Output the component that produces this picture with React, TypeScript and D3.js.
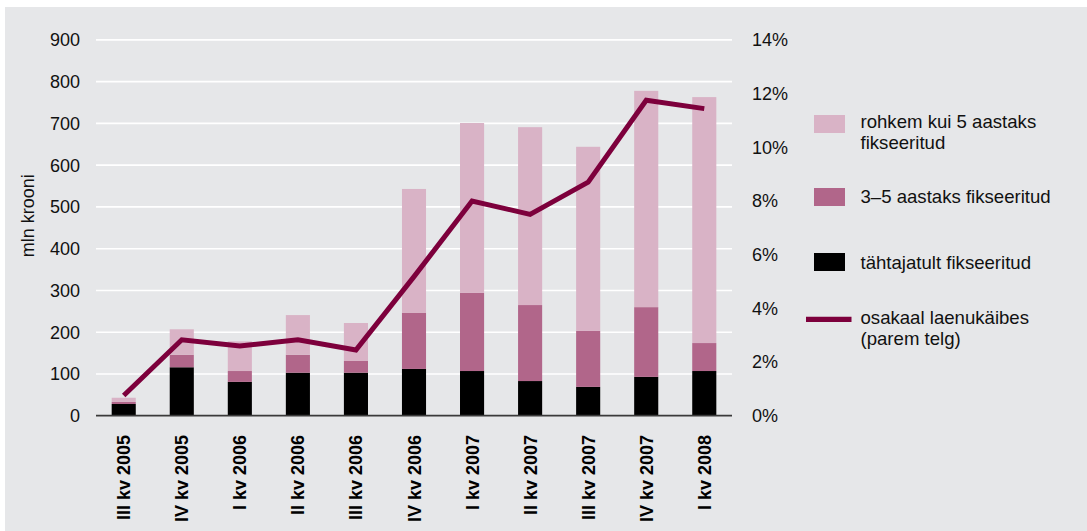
import React from "react";
import * as d3 from "d3";

const categories = [
  "III kv 2005", "IV kv 2005", "I kv 2006", "II kv 2006", "III kv 2006",
  "IV kv 2006", "I kv 2007", "II kv 2007", "III kv 2007", "IV kv 2007", "I kv 2008",
];
const fixedTerm = [28, 116, 81, 103, 103, 112, 107, 83, 69, 93, 107];
const fixed3to5 = [5, 30, 26, 43, 28, 134, 187, 182, 134, 167, 67];
const fixedOver5 = [10, 61, 71, 95, 91, 297, 407, 426, 441, 518, 589];
const shareOfTurnover = [0.75, 2.83, 2.6, 2.83, 2.45, 5.18, 8.0, 7.5, 8.7, 11.75, 11.44];
const leftTicks = [0, 100, 200, 300, 400, 500, 600, 700, 800, 900];
const rightTicks = [0, 2, 4, 6, 8, 10, 12, 14];

const seriesKeys = ["fixedTerm", "fixed3to5", "fixedOver5"];
const seriesColors: Record<string, string> = {
  fixedTerm: "#000000",
  fixed3to5: "#b1668a",
  fixedOver5: "#d9b3c6",
};
const lineColor = "#7d003c";

export default function App() {
  const W = 1087, H = 531;
  const x0 = 96, x1 = 732, yTop = 39.9, yBot = 415.7;
  const font = "'Liberation Sans', Arial, Helvetica, sans-serif";

  const x = d3.scaleBand<string>().domain(categories).range([x0, x1]).paddingInner(0.585).paddingOuter(0.27);
  const y = d3.scaleLinear().domain([0, 900]).range([yBot, yTop]);
  const y2 = d3.scaleLinear().domain([0, 14]).range([yBot, yTop]);

  const table = categories.map((c, i) => ({
    cat: c,
    fixedTerm: fixedTerm[i],
    fixed3to5: fixed3to5[i],
    fixedOver5: fixedOver5[i],
  }));
  const stacked = d3.stack<any>().keys(seriesKeys)(table);

  const line = d3
    .line<number>()
    .x((_, i) => (x(categories[i]) as number) + x.bandwidth() / 2)
    .y((d) => y2(d));

  const legend = [
    { type: "rect", key: "fixedOver5", lines: ["rohkem kui 5 aastaks", "fikseeritud"], sy: 115, ty: 127.5 },
    { type: "rect", key: "fixed3to5", lines: ["3–5 aastaks fikseeritud"], sy: 188, ty: 203 },
    { type: "rect", key: "fixedTerm", lines: ["tähtajatult fikseeritud"], sy: 253, ty: 268.5 },
    { type: "line", key: "line", lines: ["osakaal laenukäibes", "(parem telg)"], sy: 319.3, ty: 323.5 },
  ];

  return (
    <svg width={W} height={H} style={{ position: "absolute", left: 0, top: 0 }} fontFamily={font}>
      <rect x={0} y={0} width={W} height={H} fill="#ffffff" />
      <rect x={5} y={7} width={W - 5} height={H - 7} fill="#e6e7e9" />

      {leftTicks.map((t) => (
        <g key={"g" + t}>
          {t > 0 && <line x1={x0} x2={x1} y1={y(t)} y2={y(t)} stroke="#ffffff" strokeWidth={1.6} />}
          <text x={80} y={y(t)} dy="0.36em" textAnchor="end" fontSize={18} fill="#111">
            {t}
          </text>
        </g>
      ))}
      {rightTicks.map((t) => (
        <text key={"r" + t} x={752} y={y2(t)} dy="0.36em" textAnchor="start" fontSize={18} fill="#111">
          {t + "%"}
        </text>
      ))}

      <text transform={`translate(34,${(y(0) + y(900)) / 2 - 12}) rotate(-90)`} textAnchor="middle" fontSize={18} fill="#111">
        mln krooni
      </text>

      {stacked.map((s) => (
        <g key={s.key} fill={seriesColors[s.key]}>
          {s.map((d, i) => (
            <rect
              key={i}
              x={x(categories[i])}
              width={x.bandwidth()}
              y={y(d[1])}
              height={y(d[0]) - y(d[1])}
            />
          ))}
        </g>
      ))}

      <line x1={x0} x2={x1} y1={yBot} y2={yBot} stroke="#3a3a3a" strokeWidth={1.8} />

      <path d={line(shareOfTurnover) as string} fill="none" stroke={lineColor} strokeWidth={5} strokeLinejoin="miter" />

      {categories.map((c) => {
        const cx = (x(c) as number) + x.bandwidth() / 2;
        return (
          <text
            key={c}
            transform={`translate(${cx + 6.5},435) rotate(-90)`}
            textAnchor="end"
            fontSize={18}
            fontWeight="bold"
            fill="#000"
          >
            {c}
          </text>
        );
      })}

      {legend.map((l) => (
        <g key={l.key}>
          {l.type === "rect" ? (
            <rect x={814} y={l.sy} width={31} height={18} fill={seriesColors[l.key]} />
          ) : (
            <line x1={806} x2={851.5} y1={l.sy} y2={l.sy} stroke={lineColor} strokeWidth={5.3} />
          )}
          {l.lines.map((t, j) => (
            <text key={j} x={860.5} y={l.ty + j * 21.7} fontSize={18.6} fill="#111">
              {t}
            </text>
          ))}
        </g>
      ))}
    </svg>
  );
}
